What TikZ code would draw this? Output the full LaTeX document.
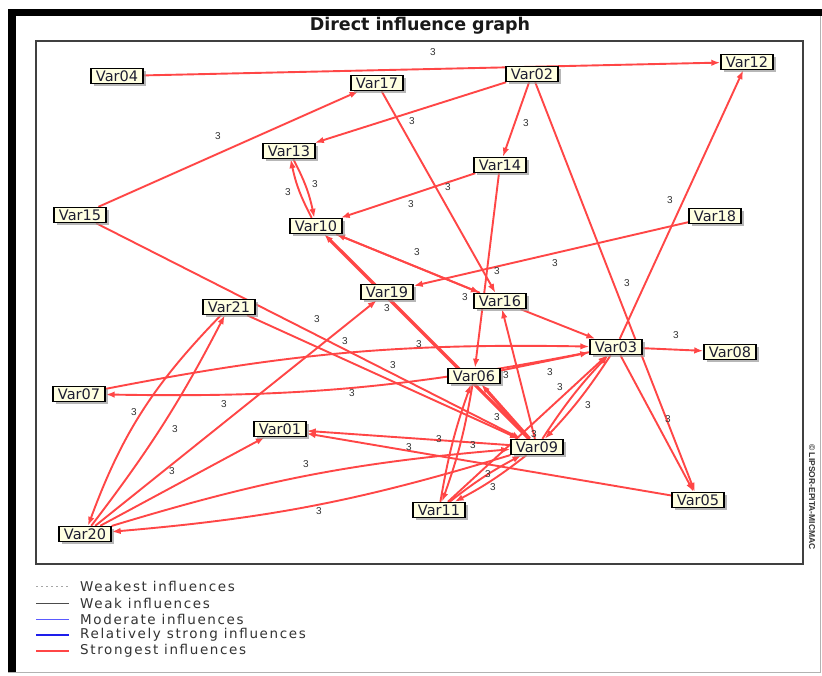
\documentclass[tikz,border=0pt]{standalone}
\usepackage{fontspec}
\setmainfont{DejaVu Sans}
\newfontfamily\libfont{Liberation Sans}
\newfontfamily\legfont[LetterSpace=12]{DejaVu Sans}
\usetikzlibrary{arrows.meta,shadows,backgrounds}
\definecolor{edgecol}{RGB}{255,70,70}
\definecolor{nodefill}{RGB}{255,255,225}
\definecolor{nodetext}{RGB}{30,30,50}
\definecolor{modcol}{RGB}{90,90,255}
\definecolor{strcol}{RGB}{30,30,235}
\begin{document}
\begin{tikzpicture}[x=1pt,y=-1pt,
  vbox/.style={draw=black, line width=1.4pt, fill=nodefill, minimum width=52pt, minimum height=15pt,
    inner sep=0pt, font=\fontsize{14.5}{15}\selectfont, text=nodetext,
    drop shadow={shadow xshift=2.5pt, shadow yshift=-2.5pt, fill=black!40, opacity=0.7}},
  infl/.style={draw=edgecol, line width=1.9pt, -{Latex[length=9pt,width=6.5pt]}},
  heavy/.style={line width=3.2pt},
  lab/.style={font=\libfont\fontsize{10}{10}\selectfont, text=black!80, inner sep=0pt},
  legtext/.style={anchor=west, font=\legfont\fontsize{13.5}{14}\selectfont, text=black!80, inner sep=0pt}]
\useasboundingbox (0,0) rectangle (822,675);
% frame
\begin{scope}[on background layer]
\fill[white] (0,0) rectangle (822,675);
\draw[black!30, line width=0.8pt] (8.5,9.5) rectangle (820.5,672);
\fill[black] (8,9) rectangle (822,16);
\fill[black] (8,9) rectangle (16,672);
\draw[black!75, line width=1.2pt] (36,41) rectangle (803,564);
\end{scope}
\node[font=\bfseries\fontsize{17.5}{18}\selectfont, text=black!90] (title) at (420,26) {Direct influence graph};
\node[rotate=-90, font=\libfont\bfseries\fontsize{8.5}{9}\selectfont, text=black!80] (copy) at (812,497) {© LIPSOR-EPITA-MICMAC};
% nodes
\node[vbox] (v01) at (280,429) {Var01};
\node[vbox] (v02) at (532,74) {Var02};
\node[vbox] (v03) at (616,347) {Var03};
\node[vbox] (v04) at (117,76) {Var04};
\node[vbox] (v05) at (698,500) {Var05};
\node[vbox] (v06) at (474,376) {Var06};
\node[vbox] (v07) at (79,394) {Var07};
\node[vbox] (v08) at (730,352) {Var08};
\node[vbox] (v09) at (537,447) {Var09};
\node[vbox] (v10) at (316,226) {Var10};
\node[vbox] (v11) at (439,510) {Var11};
\node[vbox] (v12) at (747,62) {Var12};
\node[vbox] (v13) at (289,151) {Var13};
\node[vbox] (v14) at (500,165) {Var14};
\node[vbox] (v15) at (80,215) {Var15};
\node[vbox] (v16) at (500,301) {Var16};
\node[vbox] (v17) at (377,83) {Var17};
\node[vbox] (v18) at (715,216) {Var18};
\node[vbox] (v19) at (387,292) {Var19};
\node[vbox] (v20) at (85,534) {Var20};
\node[vbox] (v21) at (229,307) {Var21};
% edges
\begin{scope}[on background layer]
\draw[infl] (v04) -- (v12);
\draw[infl] (v15) -- (v17);
\draw[infl] (v02) -- (v13);
\draw[infl] (v02) -- (v14);
\draw[infl] (v02) -- (v05);
\draw[infl] (v17) -- (v16);
\draw[infl] (v13) to[bend left=8] (v10);
\draw[infl] (v10) to[bend left=8] (v13);
\draw[infl] (v14) -- (v10);
\draw[infl] (v14) -- (v06);
\draw[infl] (v18) -- (v19);
\draw[infl] (v03) -- (v12);
\draw[infl] (v10) -- (v16);
\draw[infl] (v16) -- (v10);
\draw[infl, heavy] (v09) -- (v10);
\draw[infl] (v15) -- (v09);
\draw[infl] (v21) -- (v09);
\draw[infl] (v20) to[bend right=5] (v21);
\draw[infl] (v21) to[bend right=12] (v20);
\draw[infl] (v20) -- (v19);
\draw[infl] (v20) -- (v01);
\draw[infl] (v20) to[bend left=6] (v09);
\draw[infl] (v09) to[bend left=6] (v20);
\draw[infl] (v09) -- (v01);
\draw[infl] (v05) -- (v01);
\draw[infl] (v07) to[bend left=6] (v03);
\draw[infl] (v03) to[bend left=6] (v07);
\draw[infl] (v03) -- (v08);
\draw[infl] (v16) -- (v03);
\draw[infl] (v03) -- (v05);
\draw[infl] (v09) to[bend left=5] (v03);
\draw[infl] (v03) to[bend left=5] (v09);
\draw[infl] (v11) -- (v03);
\draw[infl] (v06) to[bend left=5] (v11);
\draw[infl] (v11) to[bend left=5] (v06);
\draw[infl] (v09) to[bend left=5] (v11);
\draw[infl] (v11) to[bend left=5] (v09);
\draw[infl] (v09) -- (v16);
\draw[infl, heavy] (v09) -- (v06);
\draw[infl] (v06) -- (v03);
\end{scope}
% labels
\foreach \p [count=\i] in {(433,52),(218,136),(412,121),(526,123),(315,184),(288,192),(411,204),(448,187),
  (670,200),(417,252),(555,263),(497,271),(465,297),(627,283),(387,308),(317,319),(345,341),(419,344),
  (676,335),(393,365),(352,393),(506,375),(550,372),(560,387),(134,412),(224,404),(175,429),(172,471),
  (306,464),(319,511),(409,447),(439,439),(473,445),(497,417),(534,434),(588,405),(668,419),(488,474),(493,487)}
  \node[lab] (l\i) at \p {3};
% legend
\draw[black!35, dash pattern=on 2pt off 3pt, line width=0.6pt] (36,586) -- (69,586);
\draw[black!70, line width=0.7pt] (36,603) -- (69,603);
\draw[modcol, line width=1pt] (36,619) -- (69,619);
\draw[strcol, line width=1.8pt] (36,635) -- (69,635);
\draw[edgecol, line width=1.8pt] (36,651) -- (69,651);
\node[legtext] (lg1) at (80,586) {Weakest influences};
\node[legtext] (lg2) at (80,603) {Weak influences};
\node[legtext] (lg3) at (80,619) {Moderate influences};
\node[legtext] (lg4) at (80,635) {Relatively strong influences};
\node[legtext] (lg5) at (80,651) {Strongest influences};
\end{tikzpicture}
\end{document}
